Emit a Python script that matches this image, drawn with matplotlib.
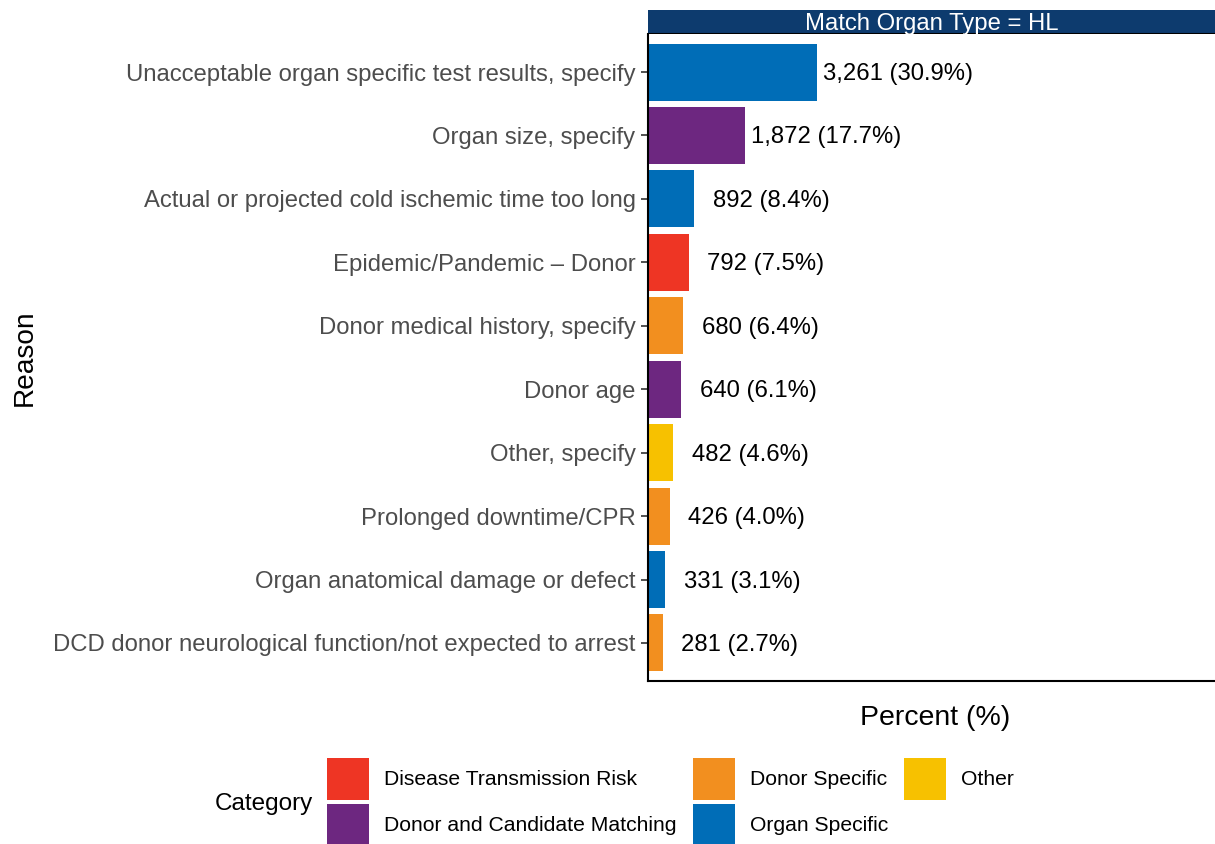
import matplotlib
matplotlib.use("Agg")
from matplotlib import pyplot as plt
from matplotlib.patches import Patch
from matplotlib.transforms import offset_copy

plt.rcParams["font.family"] = ["Liberation Sans", "DejaVu Sans"]

reasons = [
    "Unacceptable organ specific test results, specify",
    "Organ size, specify",
    "Actual or projected cold ischemic time too long",
    "Epidemic/Pandemic \u2013 Donor",
    "Donor medical history, specify",
    "Donor age",
    "Other, specify",
    "Prolonged downtime/CPR",
    "Organ anatomical damage or defect",
    "DCD donor neurological function/not expected to arrest",
]
counts = [3261, 1872, 892, 792, 680, 640, 482, 426, 331, 281]
percents = [30.9, 17.7, 8.4, 7.5, 6.4, 6.1, 4.6, 4.0, 3.1, 2.7]
categories = [
    "Organ Specific",
    "Donor and Candidate Matching",
    "Organ Specific",
    "Disease Transmission Risk",
    "Donor Specific",
    "Donor and Candidate Matching",
    "Other",
    "Donor Specific",
    "Organ Specific",
    "Donor Specific",
]
legend_order = ["Disease Transmission Risk", "Donor and Candidate Matching",
                "Donor Specific", "Organ Specific", "Other"]
colors = {
    "Disease Transmission Risk": "#EE3524",
    "Donor and Candidate Matching": "#6D2780",
    "Donor Specific": "#F28F1F",
    "Organ Specific": "#006DB7",
    "Other": "#F7C100",
}

fig = plt.figure(figsize=(12.15, 8.44), dpi=100)
ax = fig.add_axes([648 / 1215, 163 / 844, 567 / 1215, 647 / 844])

ypos = list(range(len(reasons)))
ax.barh(ypos, percents, height=0.9, color=[colors[c] for c in categories])

ax.set_xlim(0, 103.7)
ax.set_ylim(len(reasons) - 0.4, -0.6)

# value labels: anchored a fixed distance past the bar, ggplot-like hjust
shifted = offset_copy(ax.transData, fig=fig, x=0, y=-2, units="dots")
labels = []
for y, p, n in zip(ypos, percents, counts):
    t = ax.text(p + 11.3, y, f"{n:,} ({p:.1f}%)", ha="left", va="center",
                fontsize=17.2, color="black", transform=shifted)
    labels.append(t)
fig.canvas.draw()
inv = ax.transData.inverted()
for t in labels:
    bb = t.get_window_extent()
    w = inv.transform((bb.x1, 0))[0] - inv.transform((bb.x0, 0))[0]
    x, y = t.get_position()
    t.set_position((x - 0.37 * w, y))

ax.set_yticks(ypos)
ax.set_yticklabels(reasons, fontsize=17.2, color="#4D4D4D")
ax.set_xticks([])
ax.tick_params(axis="y", length=5, width=1.2, color="#333333", pad=4)
for s in ["top", "right"]:
    ax.spines[s].set_visible(False)
for s in ["left", "bottom"]:
    ax.spines[s].set_linewidth(1.5)

# facet strip
strip = fig.add_axes([648 / 1215, 810 / 844, 567 / 1215, 24 / 844])
strip.set_facecolor("#0D3B6E")
strip.set_xticks([])
strip.set_yticks([])
for s in strip.spines.values():
    s.set_visible(False)
strip.axhline(0, color="black", lw=1.5)
strip.text(0.5, 0.42, "Match Organ Type = HL", ha="center", va="center",
           color="white", fontsize=17.2, transform=strip.transAxes)

fig.text(25 / 1215, 1 - 358 / 844, "Reason", rotation=90, ha="center",
         va="center", fontsize=20.2)
fig.text(935 / 1215, 1 - 718 / 844, "Percent (%)", ha="center", va="center",
         fontsize=20.5)

handles = [Patch(facecolor=colors[c], edgecolor="none") for c in legend_order]
fig.legend(handles, legend_order, ncol=3, loc="center left",
           bbox_to_anchor=(327 / 1215, 1 - 802 / 844), frameon=False,
           fontsize=15.2, handlelength=2.0, handleheight=2.7,
           handletextpad=0.71, columnspacing=0.76, labelspacing=0.19,
           borderpad=0, borderaxespad=0)
fig.text(215 / 1215, 1 - 804 / 844, "Category", ha="left", va="center",
         fontsize=17.5)

fig.savefig("out.png", dpi=100)
